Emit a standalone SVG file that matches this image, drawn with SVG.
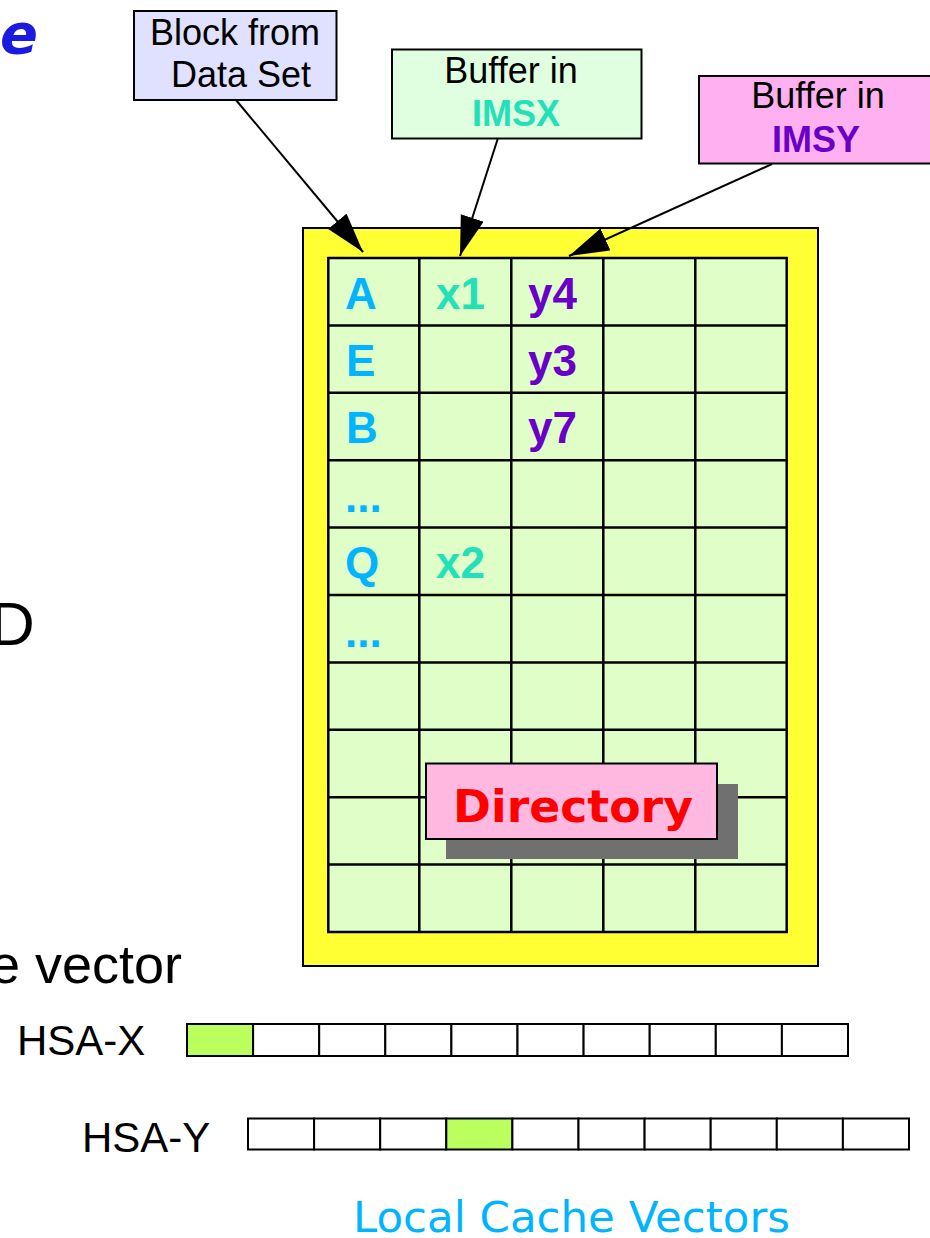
<svg xmlns="http://www.w3.org/2000/svg" width="930" height="1238" viewBox="0 0 930 1238">
<style>
.sans{font-family:"Liberation Sans",Arial,sans-serif}
.box{stroke:#000;stroke-width:2}
.lbl{font-family:"Liberation Sans",Arial,sans-serif;font-size:36px}
.cell{font-family:"Liberation Sans",Arial,sans-serif;font-size:44px;font-weight:bold}
.blk{fill:#00b4ff}
.bx{fill:#22e0b8}
.by{fill:#6a00c8}
.grid{stroke:#000;stroke-width:2.5;fill:none}
.vec{fill:#fff;stroke:#000;stroke-width:2}
.conn{stroke:#000;stroke-width:2;fill:none;marker-end:url(#ah)}
</style>
<defs>
<marker id="ah" markerUnits="userSpaceOnUse" markerWidth="42" markerHeight="26" refX="40" refY="12" orient="auto">
<path d="M0,0 L40,12 L0,24 z" fill="#000"/>
</marker>
</defs>
<rect width="930" height="1238" fill="#fff"/>

<g id="title-fragment">
<text x="0" y="53" font-family="DejaVu Sans,sans-serif" font-size="56" font-style="italic" font-weight="bold" fill="#1a1ae0" textLength="38" lengthAdjust="spacingAndGlyphs">e</text>
<text x="-10" y="645" class="sans" font-size="62" fill="#000">D</text>
<text x="-10" y="983" class="sans" font-size="54" fill="#000">e vector</text>
</g>

<g id="directory">
<rect x="303" y="228" width="515" height="738" fill="#ffff33" stroke="#000" stroke-width="2"/>
<rect x="328.3" y="258" width="458.4" height="674" fill="#e0ffc8"/>
<g class="grid">
<rect x="328.3" y="258" width="458.4" height="674"/>
<path d="M419.3,258V932M511.3,258V932M603.3,258V932M695.3,258V932"/>
<path d="M328.3,325.4H786.7M328.3,392.8H786.7M328.3,460.2H786.7M328.3,527.6H786.7M328.3,595H786.7M328.3,662.4H786.7M328.3,729.8H786.7M328.3,797.2H786.7M328.3,864.6H786.7"/>
</g>
<g class="cell">
<text x="345" y="309" class="blk">A</text>
<text x="346" y="376" class="blk">E</text>
<text x="346" y="443" class="blk">B</text>
<text x="345" y="512" class="blk">...</text>
<text x="345" y="578" class="blk">Q</text>
<text x="345" y="647" class="blk">...</text>
<text x="436" y="309" class="bx">x1</text>
<text x="436" y="578" class="bx">x2</text>
<text x="528" y="309" class="by">y4</text>
<text x="528" y="376" class="by">y3</text>
<text x="528" y="443" class="by">y7</text>
</g>
</g>

<g id="directory-label">
<rect x="446" y="784" width="292" height="75" fill="#707070"/>
<rect x="426" y="763.5" width="291" height="75.5" fill="#ffb8e0" class="box"/>
<text x="453" y="822" font-family="DejaVu Sans,sans-serif" font-size="44" font-weight="bold" fill="#ff0000" textLength="240" lengthAdjust="spacingAndGlyphs">Directory</text>
</g>

<g id="block-from-data-set">
<rect x="134" y="11" width="202.5" height="89" fill="#e0e0ff" class="box"/>
<text x="235" y="45" class="lbl" text-anchor="middle" fill="#000">Block from</text>
<text x="241" y="87" class="lbl" text-anchor="middle" fill="#000">Data Set</text>
</g>

<g id="buffer-imsx">
<rect x="392" y="49.5" width="249.5" height="89" fill="#e0ffe0" class="box"/>
<text x="511" y="83" class="lbl" text-anchor="middle" fill="#000">Buffer in</text>
<text x="516" y="126" class="lbl bx" text-anchor="middle" font-weight="bold">IMSX</text>
</g>

<g id="buffer-imsy">
<rect x="699" y="76" width="240" height="87.5" fill="#ffb0f0" class="box"/>
<text x="818" y="108" class="lbl" text-anchor="middle" fill="#000">Buffer in</text>
<text x="816" y="152" class="lbl by" text-anchor="middle" font-weight="bold">IMSY</text>
</g>

<g id="connectors">
<line x1="236" y1="100" x2="363" y2="252" class="conn"/>
<line x1="498" y1="138" x2="460" y2="256" class="conn"/>
<line x1="772" y1="164" x2="569" y2="256" class="conn"/>
</g>

<g id="hsa-x">
<text x="17" y="1055" class="sans" font-size="42" fill="#000">HSA-X</text>
<rect x="187" y="1024" width="66.1" height="32" fill="#bbff5e" stroke="#000" stroke-width="2"/>
<rect x="253.1" y="1024" width="66.1" height="32" class="vec"/>
<rect x="319.2" y="1024" width="66.1" height="32" class="vec"/>
<rect x="385.3" y="1024" width="66.1" height="32" class="vec"/>
<rect x="451.4" y="1024" width="66.1" height="32" class="vec"/>
<rect x="517.5" y="1024" width="66.1" height="32" class="vec"/>
<rect x="583.6" y="1024" width="66.1" height="32" class="vec"/>
<rect x="649.7" y="1024" width="66.1" height="32" class="vec"/>
<rect x="715.8" y="1024" width="66.1" height="32" class="vec"/>
<rect x="781.9" y="1024" width="66.1" height="32" class="vec"/>
</g>

<g id="hsa-y">
<text x="82" y="1152" class="sans" font-size="42" fill="#000">HSA-Y</text>
<rect x="248" y="1118.5" width="66.1" height="31" class="vec"/>
<rect x="314.1" y="1118.5" width="66.1" height="31" class="vec"/>
<rect x="380.2" y="1118.5" width="66.1" height="31" class="vec"/>
<rect x="446.3" y="1118.5" width="66.1" height="31" fill="#bbff5e" stroke="#000" stroke-width="2"/>
<rect x="512.4" y="1118.5" width="66.1" height="31" class="vec"/>
<rect x="578.5" y="1118.5" width="66.1" height="31" class="vec"/>
<rect x="644.6" y="1118.5" width="66.1" height="31" class="vec"/>
<rect x="710.7" y="1118.5" width="66.1" height="31" class="vec"/>
<rect x="776.8" y="1118.5" width="66.1" height="31" class="vec"/>
<rect x="842.9" y="1118.5" width="66.1" height="31" class="vec"/>
</g>

<g id="caption">
<text x="353" y="1232" font-family="DejaVu Sans,sans-serif" font-size="42" fill="#00b4ff" textLength="437" lengthAdjust="spacingAndGlyphs">Local Cache Vectors</text>
</g>
</svg>
